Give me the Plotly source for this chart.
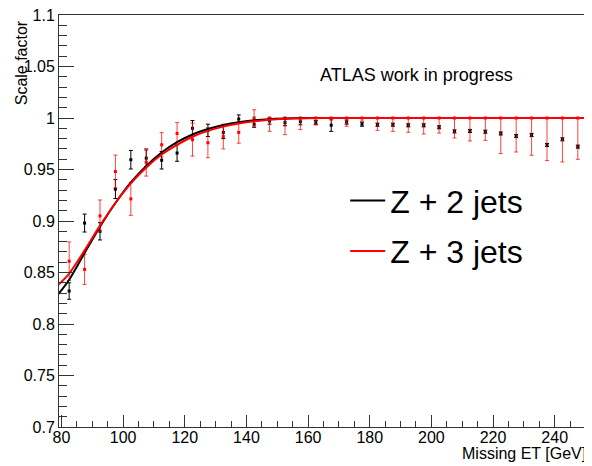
import plotly.graph_objects as go

# ---------------- data ----------------
met_centers = [82.5, 87.5, 92.5, 97.5, 102.5, 107.5, 112.5, 117.5, 122.5, 127.5,
               132.5, 137.5, 142.5, 147.5, 152.5, 157.5, 162.5, 167.5, 172.5, 177.5,
               182.5, 187.5, 192.5, 197.5, 202.5, 207.5, 212.5, 217.5, 222.5, 227.5,
               232.5, 237.5, 242.5, 247.5]

sf_2jets = [0.832, 0.898, 0.890, 0.931, 0.9595, 0.961, 0.959, 0.966, 0.990, 0.988,
            0.986, 0.999, 0.994, 0.997, 0.9955, 0.9964, 0.9955, 0.993, 0.996, 0.994,
            0.9935, 0.9935, 0.9929, 0.9929, 0.991, 0.987, 0.9874, 0.9867, 0.985, 0.9825,
            0.9835, 0.9738, 0.9793, 0.9722]
err_2jets = [0.008, 0.0087, 0.0084, 0.0092, 0.009, 0.008, 0.0085, 0.008, 0.0075, 0.006,
             0.006, 0.004, 0.003, 0.003, 0.003, 0.003, 0.002, 0.006, 0.002, 0.002,
             0.0015, 0.0015, 0.0015, 0.0015, 0.0015, 0.0015, 0.0015, 0.0015, 0.0015, 0.0015,
             0.0015, 0.0015, 0.0015, 0.0015]

sf_3jets = [0.861, 0.853, 0.905, 0.948, 0.9215, 0.957, 0.974, 0.985, 0.979, 0.976,
            0.982, 0.986, 1.0, 1.0, 1.0, 1.0, 1.0, 1.0, 1.0, 1.0,
            1.0, 1.0, 1.0, 1.0, 1.0, 1.0, 1.0, 1.0, 1.0, 1.0,
            1.0, 1.0, 1.0, 1.0]
err_up_3jets = [0.0187, 0.0146, 0.0154, 0.016, 0.016, 0.0134, 0.0118, 0.0105, 0.016, 0.0146,
                0.012, 0.0105, 0.008, 0.0, 0.0, 0.0, 0.0, 0.0, 0.0, 0.0,
                0.0, 0.0, 0.0, 0.0, 0.0, 0.0, 0.0, 0.0, 0.0, 0.0,
                0.0, 0.0, 0.0, 0.0]
err_dn_3jets = [0.0187, 0.0146, 0.0154, 0.016, 0.016, 0.0134, 0.0118, 0.0105, 0.016, 0.0146,
                0.012, 0.0105, 0.008, 0.0129, 0.0162, 0.0113, 0.0065, 0.002, 0.0081, 0.003,
                0.012, 0.013, 0.0139, 0.0155, 0.0146, 0.0194, 0.0223, 0.0217, 0.0346, 0.033,
                0.0362, 0.0414, 0.0427, 0.0401]

# fitted curves
fit_met = [79, 82.5, 87.5, 92.5, 97.5, 102.5, 107.5, 112.5, 117.5, 122.5,
           127.5, 132.5, 137.5, 142.5, 147.5, 155, 165, 180, 251]
fit_2jets = [0.829, 0.843, 0.869, 0.8945, 0.9175, 0.9375, 0.9535, 0.9665, 0.9765, 0.984,
             0.9893, 0.9932, 0.996, 0.9978, 0.9989, 0.9997, 1.0, 1.0, 1.0]
fit_3jets = [0.838, 0.849, 0.8715, 0.8955, 0.9175, 0.9365, 0.952, 0.9645, 0.974, 0.9818,
             0.9875, 0.9916, 0.9946, 0.9968, 0.9983, 0.9995, 1.0, 1.0, 1.0]

x_ticks = [80, 100, 120, 140, 160, 180, 200, 220, 240]
y_ticks = [0.7, 0.75, 0.8, 0.85, 0.9, 0.95, 1.0, 1.05, 1.1]
y_ticktext = ["0.7", "0.75", "0.8", "0.85", "0.9", "0.95", "1", "1.05", "1.1"]
labels = ["Z + 2 jets", "Z + 3 jets"]

FONT = "Liberation Sans, Arial, Helvetica, sans-serif"
AX = "#333333"

fig = go.Figure()

fig.add_trace(go.Scatter(
    x=met_centers, y=sf_2jets, mode="markers", showlegend=False,
    marker=dict(symbol="square", size=3, color="black"),
    error_y=dict(type="data", array=err_2jets, color="black", thickness=1, width=2),
))
fig.add_trace(go.Scatter(
    x=met_centers, y=sf_3jets, mode="markers", showlegend=False,
    marker=dict(symbol="square", size=3, color="red"),
    error_y=dict(type="data", symmetric=False, array=err_up_3jets, arrayminus=err_dn_3jets,
                 color="rgba(255,0,0,0.75)", thickness=1, width=2),
))
fig.add_trace(go.Scatter(
    x=fit_met, y=fit_2jets, mode="lines", name=labels[0], legend="legend",
    line=dict(color="black", width=2, shape="spline", smoothing=0.8),
))
fig.add_trace(go.Scatter(
    x=fit_met, y=fit_3jets, mode="lines", name=labels[1], legend="legend2",
    line=dict(color="red", width=2, shape="spline", smoothing=0.8),
))

legend_common = dict(
    xanchor="left", yanchor="middle", bgcolor="rgba(255,255,255,0)",
    font=dict(family=FONT, size=32, color="black"), borderwidth=0, itemwidth=35,
)
# the page adds an 8px body margin, so the figure is 8px smaller than the window
fig.update_layout(
    width=584, height=458,
    margin=dict(l=51, r=4, t=7, b=39, autoexpand=False),
    paper_bgcolor="white", plot_bgcolor="white",
    legend=dict(x=0.541, y=0.549, **legend_common),
    legend2=dict(x=0.541, y=0.427, **legend_common),
    xaxis=dict(
        range=[79.2, 250.8], tickmode="array", tickvals=x_ticks,
        ticks="inside", ticklen=12, tickcolor=AX, tickwidth=1,
        ticklabelstandoff=-4, ticklabeloverflow="allow", automargin=False,
        showline=True, linecolor=AX, linewidth=1, mirror=True,
        showgrid=False, zeroline=False,
        tickfont=dict(family=FONT, size=16, color="black"),
        minor=dict(ticks="inside", ticklen=6, tickcolor=AX, dtick=5, tick0=80, showgrid=False),
    ),
    yaxis=dict(
        range=[0.7, 1.1], tickmode="array", tickvals=y_ticks, ticktext=y_ticktext,
        ticks="inside", ticklen=15, tickcolor=AX, tickwidth=1,
        ticklabeloverflow="allow", automargin=False,
        showline=True, linecolor=AX, linewidth=1, mirror=True,
        showgrid=False, zeroline=False,
        tickfont=dict(family=FONT, size=16, color="black"),
        minor=dict(ticks="inside", ticklen=8, tickcolor=AX, dtick=0.01, tick0=0.7, showgrid=False),
    ),
    annotations=[
        dict(text="Scale factor", xref="paper", yref="paper", x=-0.072, y=0.993,
             xanchor="center", yanchor="top", textangle=-90, showarrow=False,
             font=dict(family=FONT, size=16, color="black")),
        dict(text="Missing ET [GeV]", xref="paper", yref="paper", x=1.0, y=-0.065,
             xanchor="right", yanchor="middle", showarrow=False,
             font=dict(family=FONT, size=16, color="black")),
        dict(text="ATLAS work in progress", xref="paper", yref="paper", x=0.676, y=0.854,
             xanchor="center", yanchor="middle", showarrow=False,
             font=dict(family=FONT, size=18, color="black")),
    ],
)

fig.write_html("out.html")
